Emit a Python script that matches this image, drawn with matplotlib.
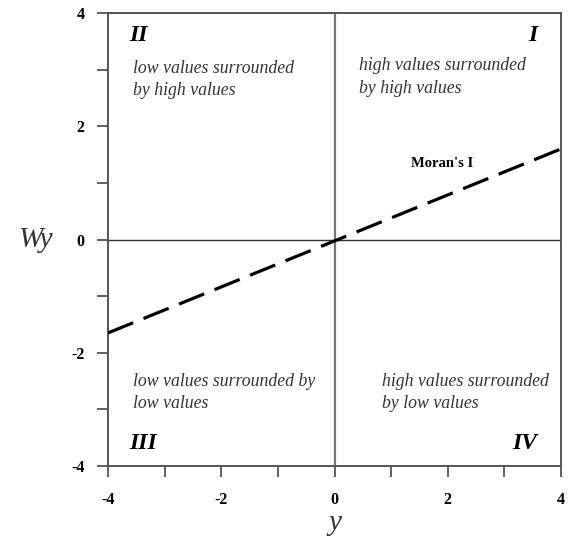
import matplotlib.pyplot as plt
from matplotlib.ticker import MultipleLocator, FuncFormatter

# Moran's I regression line end points
line_x = [-4, 4]
line_y = [-1.65, 1.6]

quad_num = ["I", "II", "III", "IV"]
quad_text = ["high values surrounded\nby high values",
             "low values surrounded\nby high values",
             "low values surrounded by\nlow values",
             "high values surrounded\nby low values"]

plt.rcParams['font.family'] = ['Liberation Serif', 'DejaVu Serif']
plt.rcParams['axes.unicode_minus'] = False

fig = plt.figure(figsize=(5.79, 5.41), dpi=100)
ax = fig.add_axes([0.1865, 0.1386, 0.7825, 0.8374])
ax.set_xlim(-4, 4)
ax.set_ylim(-4, 4)

ax.axhline(0, color='#333333', lw=1.0, zorder=1)
ax.axvline(0, color='#777777', lw=1.6, zorder=1)
ax.plot(line_x, line_y, color='black', lw=2.3, dashes=(8.5, 3.5), zorder=3)

ax.text(1.9, 1.34, "Moran's I", fontsize=10.5, fontweight='bold', ha='center', va='center')

# roman numerals
num_kw = dict(fontsize=17, fontweight='bold', style='italic', va='center', color='black')
ax.text(3.58, 3.6, quad_num[0], ha='right', **num_kw)
ax.text(-3.62, 3.6, quad_num[1], ha='left', **num_kw)
ax.text(-3.62, -3.6, quad_num[2], ha='left', **num_kw)
ax.text(3.58, -3.6, quad_num[3], ha='right', **num_kw)

txt_kw = dict(fontsize=12.8, style='italic', va='center', ha='left', color='#333333', linespacing=1.4)
ax.text(0.44, 2.87, quad_text[0], **txt_kw)
ax.text(-3.56, 2.83, quad_text[1], **txt_kw)
ax.text(-3.56, -2.7, quad_text[2], **txt_kw)
ax.text(0.83, -2.7, quad_text[3], **txt_kw)

ax.xaxis.set_major_locator(MultipleLocator(2))
ax.xaxis.set_minor_locator(MultipleLocator(1))
ax.yaxis.set_major_locator(MultipleLocator(2))
ax.yaxis.set_minor_locator(MultipleLocator(1))
fmt = FuncFormatter(lambda v, p: '%d' % v)
ax.xaxis.set_major_formatter(fmt)
ax.yaxis.set_major_formatter(fmt)
ax.tick_params(which='both', direction='out', length=8, width=1.3, color='#555555')
ax.tick_params(which='major', labelsize=11.5)
ax.tick_params(axis='x', which='major', pad=11)
ax.tick_params(axis='y', which='major', pad=9)
for lab in ax.get_xticklabels() + ax.get_yticklabels():
    lab.set_fontweight('bold')

for sp in ax.spines.values():
    sp.set_color('#555555')
    sp.set_linewidth(1.4)

ax.set_xlabel('y', fontsize=21, style='italic', color='#333333', labelpad=1)
ax.set_ylabel('Wy', fontsize=21, style='italic', color='#333333', rotation=0,
              labelpad=26, va='center')

fig.savefig('out.png', dpi=100)
